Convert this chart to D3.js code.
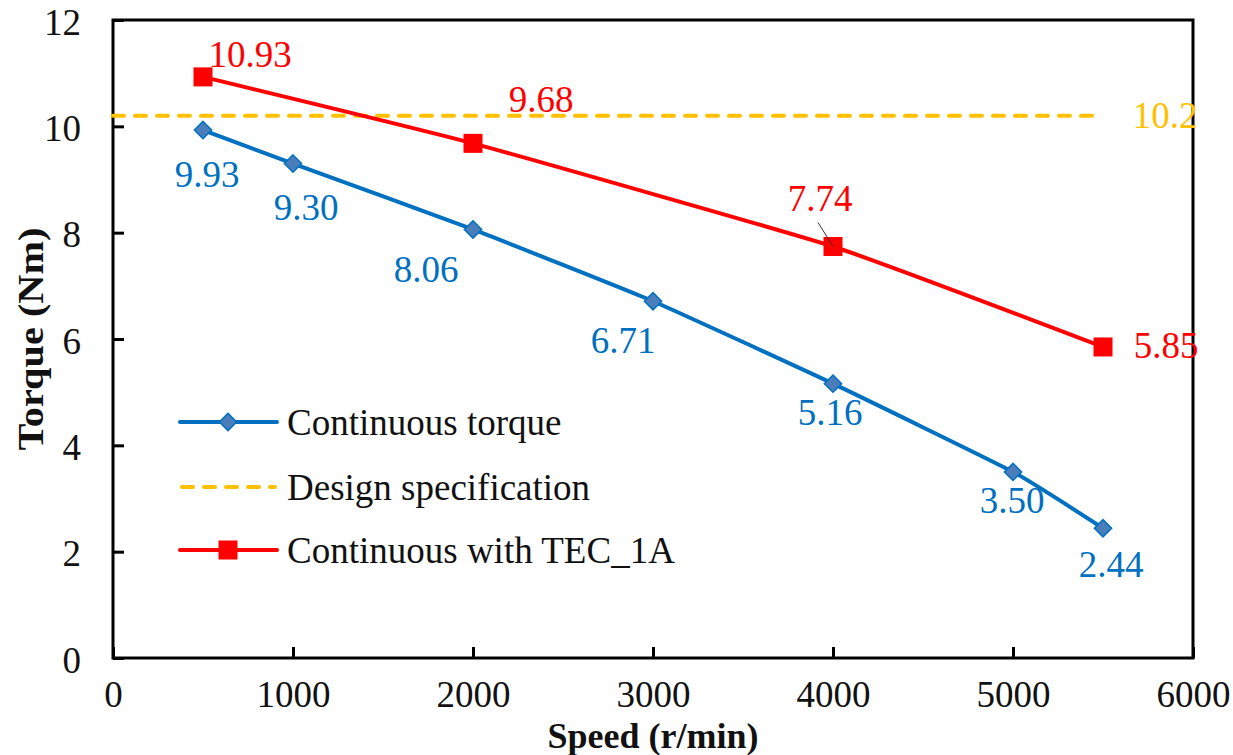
<!DOCTYPE html>
<html>
<head>
<meta charset="utf-8">
<script src="https://cdn.jsdelivr.net/npm/d3@7"></script>
<style>
  body { margin: 0; background: #fff; }
  svg text { font-family: "Liberation Serif", "Times New Roman", Tinos, "Nimbus Roman", "DejaVu Serif", serif; }
</style>
</head>
<body>
<div id="vis"></div>
<script>
// datos
const speeds = [500, 1000, 2000, 3000, 4000, 5000, 5500];
const continuousTorque = [9.93, 9.30, 8.06, 6.71, 5.16, 3.50, 2.44];
const tecSpeeds = [500, 2000, 4000, 5500];
const tecTorque = [10.93, 9.68, 7.74, 5.85];
const designSpeeds = [0, 5500];
const designValue = 10.2;
const xTicks = [0, 1000, 2000, 3000, 4000, 5000, 6000];
const yTicks = [0, 2, 4, 6, 8, 10, 12];
const seriesNames = ["Continuous torque", "Design specification", "Continuous with TEC_1A"];

// desplazamiento de las etiquetas (px) respecto al punto
const blueLabelOffsets = [[4, 57], [13, 56], [-47, 53], [-30, 52], [-3, 41], [-1, 41], [8, 49]];
const redLabelOffsets = [[47, -10], [68, -31], [-13, -35], [63, 11]];

const WIDTH = 1233;
const HEIGHT = 755;
const MARGIN = { top: 20, bottom: 97, left: 113, right: 40 };
const W = WIDTH - MARGIN.left - MARGIN.right;
const H = HEIGHT - MARGIN.top - MARGIN.bottom;

const BLUE = "#0070c0";
const RED = "#ff0000";
const ORANGE = "#ffc000";
const FONT = 37;
const SERIF = "'Liberation Serif', 'Times New Roman', Tinos, 'Nimbus Roman', 'DejaVu Serif', serif";

const SVG = d3.select("#vis").append("svg")
    .attr("width", WIDTH)
    .attr("height", HEIGHT);

const g = SVG.append("g")
    .attr("transform", `translate(${MARGIN.left}, ${MARGIN.top})`);

const xScale = d3.scaleLinear().domain([0, 6000]).range([0, W]);
const yScale = d3.scaleLinear().domain([0, 12]).range([H, 0]);

// ejes con ticks hacia adentro
const ejeX = g.append("g")
    .attr("transform", `translate(0, ${H})`)
    .call(d3.axisBottom(xScale).tickValues(xTicks).tickSize(-11).tickPadding(23).tickFormat(d3.format("d")));
const ejeY = g.append("g")
    .call(d3.axisLeft(yScale).tickValues(yTicks).tickSize(-11).tickPadding(32).tickFormat(d3.format("d")));

[ejeX, ejeY].forEach(eje => {
    eje.attr("font-family", null);
    eje.select(".domain").remove();
    eje.selectAll(".tick line").attr("stroke", "black").attr("stroke-width", 3);
    eje.selectAll(".tick text")
        .attr("font-size", FONT)
        .attr("fill", "#111")
        .style("font-family", SERIF);
});
ejeX.selectAll(".tick text").attr("dy", "0.71em");
ejeY.selectAll(".tick text").attr("dy", "0.38em");

// marco
g.append("rect")
    .attr("width", W)
    .attr("height", H)
    .attr("fill", "none")
    .attr("stroke", "black")
    .attr("stroke-width", 3);

// titulos de ejes
SVG.append("text")
    .text("Speed (r/min)")
    .attr("x", MARGIN.left + W / 2)
    .attr("y", 748)
    .attr("text-anchor", "middle")
    .attr("font-weight", "bold")
    .attr("font-size", 36)
    .attr("fill", "#111");

// el titulo vertical va algo estirado a lo largo
const estiro = 1.12;
SVG.append("text")
    .text("Torque (Nm)")
    .attr("transform", `rotate(270) scale(${estiro}, 1)`)
    .attr("x", -(MARGIN.top + H / 2) / estiro)
    .attr("y", 43)
    .attr("text-anchor", "middle")
    .attr("font-weight", "bold")
    .attr("font-size", 36)
    .attr("fill", "#111");

const blueData = speeds.map((s, i) => ({ x: s, y: continuousTorque[i] }));
const redData = tecSpeeds.map((s, i) => ({ x: s, y: tecTorque[i] }));

const linea = d3.line()
    .x(d => xScale(d.x))
    .y(d => yScale(d.y))
    .curve(d3.curveCardinal.tension(0.6));

// linea de especificacion
g.append("line")
    .attr("x1", xScale(designSpeeds[0]))
    .attr("x2", xScale(designSpeeds[1]))
    .attr("y1", yScale(designValue))
    .attr("y2", yScale(designValue))
    .attr("stroke", ORANGE)
    .attr("stroke-width", 4)
    .attr("stroke-linecap", "round")
    .attr("stroke-dasharray", "11,11");

g.append("text")
    .text(designValue)
    .attr("x", xScale(designSpeeds[1]) + 62)
    .attr("y", yScale(designValue) + 12)
    .attr("text-anchor", "middle")
    .attr("font-size", FONT)
    .attr("fill", ORANGE);

g.append("path")
    .datum(blueData)
    .attr("d", linea)
    .attr("fill", "none")
    .attr("stroke", BLUE)
    .attr("stroke-width", 4);

g.append("path")
    .datum(redData)
    .attr("d", linea)
    .attr("fill", "none")
    .attr("stroke", RED)
    .attr("stroke-width", 4);

const diamante = d3.symbol().type(d3.symbolDiamond2).size(190);

g.selectAll("path.diamante")
    .data(blueData)
    .join("path")
    .attr("class", "diamante")
    .attr("d", diamante)
    .attr("transform", d => `translate(${xScale(d.x)}, ${yScale(d.y)})`)
    .attr("fill", "#4a7ebb")
    .attr("stroke", BLUE)
    .attr("stroke-width", 1.5);

g.selectAll("rect.cuadro")
    .data(redData)
    .join("rect")
    .attr("class", "cuadro")
    .attr("x", d => xScale(d.x) - 9.5)
    .attr("y", d => yScale(d.y) - 9.5)
    .attr("width", 19)
    .attr("height", 19)
    .attr("fill", RED);

// linea guia de la etiqueta 7.74
const guia = redData[2];
g.append("line")
    .attr("x1", xScale(guia.x) - 15)
    .attr("y1", yScale(guia.y) - 24)
    .attr("x2", xScale(guia.x))
    .attr("y2", yScale(guia.y))
    .attr("stroke", "#333")
    .attr("stroke-width", 1);

// etiquetas de datos
g.selectAll("text.etiqueta-azul")
    .data(blueData)
    .join("text")
    .attr("class", "etiqueta-azul")
    .text(d => d.y.toFixed(2))
    .attr("x", (d, i) => xScale(d.x) + blueLabelOffsets[i][0])
    .attr("y", (d, i) => yScale(d.y) + blueLabelOffsets[i][1])
    .attr("text-anchor", "middle")
    .attr("font-size", FONT)
    .attr("fill", BLUE);

g.selectAll("text.etiqueta-roja")
    .data(redData)
    .join("text")
    .attr("class", "etiqueta-roja")
    .text(d => d.y.toFixed(2))
    .attr("x", (d, i) => xScale(d.x) + redLabelOffsets[i][0])
    .attr("y", (d, i) => yScale(d.y) + redLabelOffsets[i][1])
    .attr("text-anchor", "middle")
    .attr("font-size", FONT)
    .attr("fill", RED);

// leyenda
const leyenda = SVG.append("g").attr("transform", "translate(180, 422)");
const filas = leyenda.selectAll("g.fila")
    .data(seriesNames)
    .join("g")
    .attr("class", "fila")
    .attr("transform", (d, i) => `translate(0, ${[0, 65, 128][i]})`);

filas.each(function(d, i) {
    const fila = d3.select(this);
    if (i === 1) {
        fila.append("line")
            .attr("x1", 2).attr("x2", 95)
            .attr("stroke", ORANGE)
            .attr("stroke-width", 4)
            .attr("stroke-linecap", "round")
            .attr("stroke-dasharray", "11,11");
    } else {
        fila.append("line")
            .attr("x1", 0).attr("x2", 97)
            .attr("stroke", i === 0 ? BLUE : RED)
            .attr("stroke-width", 4)
            .attr("stroke-linecap", "round");
        if (i === 0) {
            fila.append("path")
                .attr("d", diamante)
                .attr("transform", "translate(48, 0)")
                .attr("fill", "#4a7ebb")
                .attr("stroke", BLUE)
                .attr("stroke-width", 1.5);
        } else {
            fila.append("rect")
                .attr("x", 38.5).attr("y", -9.5)
                .attr("width", 19).attr("height", 19)
                .attr("fill", RED);
        }
    }
    fila.append("text")
        .text(d)
        .attr("x", 107)
        .attr("y", 13)
        .attr("font-size", FONT)
        .attr("fill", "#111");
});
</script>
</body>
</html>
